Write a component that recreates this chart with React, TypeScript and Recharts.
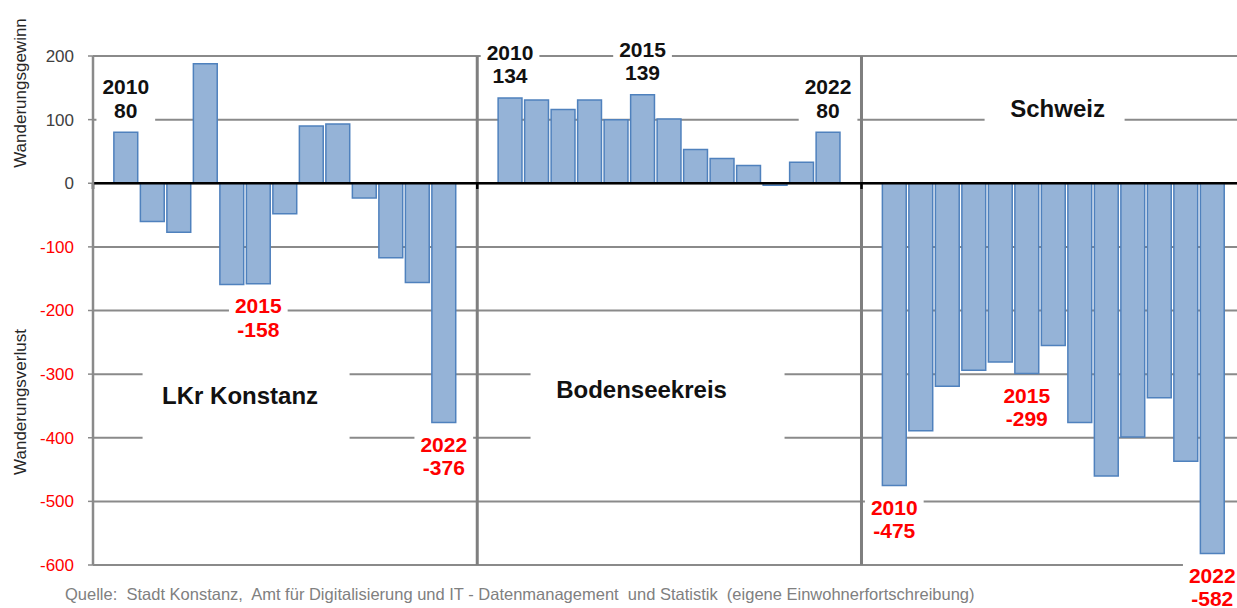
import {
  BarChart,
  Bar,
  XAxis,
  YAxis,
  CartesianGrid,
  ReferenceLine,
  ReferenceDot,
  LabelList,
} from "recharts";

const years = [2010, 2011, 2012, 2013, 2014, 2015, 2016, 2017, 2018, 2019, 2020, 2021, 2022];
const regions = ["LKr Konstanz", "Bodenseekreis", "Schweiz"];
const konstanz = [80, -60, -77, 188, -159, -158, -48, 90, 93, -23, -117, -156, -376];
const bodensee = [134, 131, 116, 131, 100, 139, 101, 53, 39, 28, -3, 33, 80];
const schweiz = [-475, -389, -319, -294, -281, -299, -255, -376, -460, -399, -337, -437, -582];
const labelledYears = [2010, 2015, 2022];
const yTicks = [200, 100, 0, -100, -200, -300, -400, -500, -600];

const FONT = "'Liberation Sans', Arial, sans-serif";
const RED = "#ff0000";
const GRID = "#8a8a8a";

// slot layout: each group is 14.5 slots wide, bars start 0.75 slot in
const GROUP_SLOTS = 14.5;
const LEAD = 1.25;
const X_MAX = 43.17;

const chartData = [konstanz, bodensee, schweiz].flatMap((vals, g) =>
  vals.map((v, i) => ({
    slot: g * GROUP_SLOTS + LEAD + i,
    value: v,
    note: labelledYears.includes(years[i]) ? `${years[i]}|${v}` : undefined,
  }))
);

// where the region titles sit (slot, value) and how wide their white box is
const titleLayout = [
  { slot: 5.55, y: -333, box: 207, shift: 12 },
  { slot: 20.7, y: -325, box: 254, shift: 22 },
  { slot: 36.4, y: 118, box: 140, shift: 3 },
];

const NoteLabel = (props: any) => {
  const vb = props.viewBox ?? props;
  const { x, y, width, height } = vb;
  const { value } = props;
  if (!value) return null;
  const [year, v] = String(value).split("|");
  const num = Number(v);
  const cx = x + width / 2;
  const top = Math.min(y, y + height);
  const bottom = Math.max(y, y + height);
  const lineGap = 23.5;
  let c1: number;
  let c2: number;
  if (num >= 0) {
    c2 = top - 22;
    c1 = c2 - lineGap;
  } else {
    c1 = bottom + 22;
    c2 = c1 + lineGap;
  }
  const w = Math.max(year.length, v.length) * 0.556 * 21 + 12;
  const color = num < 0 ? RED : "#111";
  return (
    <g>
      <rect x={cx - w / 2} y={c1 - 14} width={w} height={c2 - c1 + 28} fill="#fff" />
      <text x={cx} y={c1} dy="0.35em" textAnchor="middle" fontSize={21} fontWeight="bold" fill={color} fontFamily={FONT}>
        {year}
      </text>
      <text x={cx} y={c2} dy="0.35em" textAnchor="middle" fontSize={21} fontWeight="bold" fill={color} fontFamily={FONT}>
        {v}
      </text>
    </g>
  );
};

const TitleBox = (text: string, box: number, shift: number) => (props: any) => {
  const { cx, cy } = props;
  if (cx == null || cy == null) return <g />;
  return (
    <g>
      <rect x={cx - box / 2 + shift - 6} y={cy - 32} width={box} height={82} fill="#fff" />
      <text x={cx} y={cy} dy="0.35em" textAnchor="middle" fontSize={24} fontWeight="bold" fill="#111" fontFamily={FONT}>
        {text}
      </text>
    </g>
  );
};

const YTick = (props: any) => {
  const { x, y, payload } = props;
  const v = payload.value;
  return (
    <text x={x} y={y} dy="0.35em" textAnchor="end" fontSize={17} fill={v < 0 ? RED : "#404040"} fontFamily={FONT}>
      {v}
    </text>
  );
};

export default function App() {
  return (
    <div style={{ position: "absolute", left: 0, top: 0, background: "#fff" }}>
      <BarChart
        width={1237}
        height={608}
        data={chartData}
        margin={{ top: 56, right: 0, bottom: 43, left: 0 }}
        barCategoryGap={0}
        barGap={0}
      >
        <CartesianGrid vertical={false} stroke={GRID} strokeWidth={2} />
        <XAxis dataKey="slot" type="number" domain={[0, X_MAX]} allowDataOverflow hide />
        <YAxis
          width={93}
          domain={[-600, 200]}
          ticks={yTicks}
          interval={0}
          allowDataOverflow
          axisLine={{ stroke: GRID, strokeWidth: 2.5 }}
          tickLine={{ stroke: GRID, strokeWidth: 1.5 }}
          tickSize={5}
          tickMargin={14}
          tick={<YTick />}
        />
        <Bar dataKey="value" fill="#95b3d7" stroke="#4f81bd" strokeWidth={1.5} barSize={26.5} isAnimationActive={false}>
          <LabelList dataKey="note" content={<NoteLabel />} />
        </Bar>
        <ReferenceLine x={GROUP_SLOTS} stroke="#7f7f7f" strokeWidth={3} />
        <ReferenceLine x={GROUP_SLOTS * 2} stroke="#7f7f7f" strokeWidth={3} />
        <ReferenceLine y={0} stroke="#000" strokeWidth={2.5} />
        {[0, GROUP_SLOTS, GROUP_SLOTS * 2].map((s) => (
          <ReferenceLine
            key={s}
            segment={[
              { x: s, y: 0 },
              { x: s, y: -9 },
            ]}
            stroke="#000"
            strokeWidth={2.5}
          />
        ))}
        {regions.map((name, g) => (
          <ReferenceDot
            key={name}
            x={titleLayout[g].slot}
            y={titleLayout[g].y}
            r={0}
            shape={TitleBox(name, titleLayout[g].box, titleLayout[g].shift)}
          />
        ))}
        <text
          transform="translate(20,93) rotate(-90)"
          textAnchor="middle"
          dominantBaseline="central"
          fontSize={17}
          fill="#262626"
          fontFamily={FONT}
        >
          Wanderungsgewinn
        </text>
        <text
          transform="translate(20,402) rotate(-90)"
          textAnchor="middle"
          dominantBaseline="central"
          fontSize={17}
          fill="#262626"
          fontFamily={FONT}
        >
          Wanderungsverlust
        </text>
        <text x={65} y={600} fontSize={16.5} fill="#808080" fontFamily={FONT} style={{ whiteSpace: "pre" }}>
          Quelle:  Stadt Konstanz,  Amt für Digitalisierung und IT - Datenmanagement  und Statistik  (eigene Einwohnerfortschreibung)
        </text>
      </BarChart>
    </div>
  );
}
